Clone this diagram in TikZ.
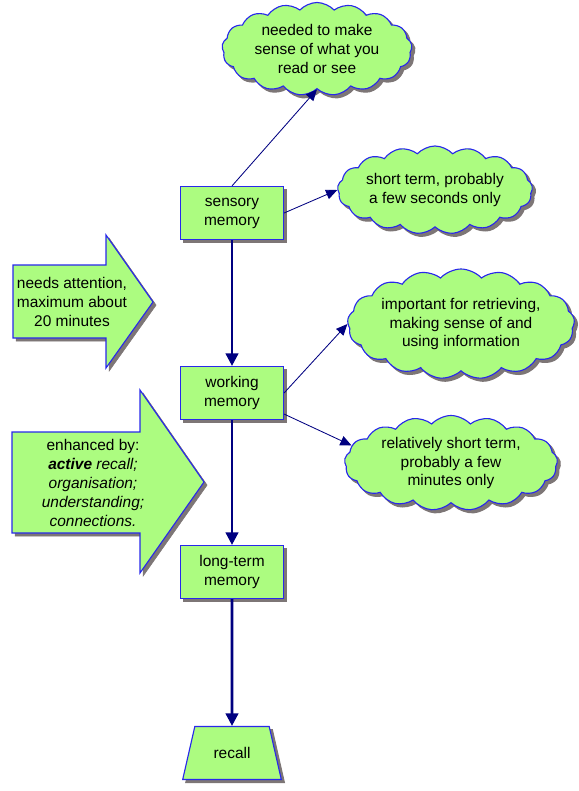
\documentclass[tikz,border=0pt]{standalone}
\usepackage{fontspec}
\setmainfont{Liberation Sans}
\usetikzlibrary{positioning, arrows.meta, shapes}
\definecolor{LeafGreen}{RGB}{172,252,128}
\definecolor{EdgeBlue}{RGB}{40,40,235}
\definecolor{NavyLine}{RGB}{0,0,128}
\definecolor{ShadowGray}{RGB}{125,118,118}

\begin{document}
\begin{tikzpicture}[x=0.025cm, y=-0.025cm,
    every node/.style={font=\fontsize{11}{13.5}\selectfont, align=center},
    boxshadow/.style={preaction={fill=ShadowGray, draw=ShadowGray, transform canvas={shift={(2.2pt,-2.2pt)}}}},
    membox/.style={rectangle, draw=EdgeBlue, line width=0.8pt, fill=LeafGreen, minimum width=2.575cm, minimum height=1.325cm, boxshadow},
    cloudnote/.style={cloud, cloud puffs=17, cloud puff arc=95, cloud ignores aspect, draw=EdgeBlue, line width=0.8pt, fill=LeafGreen, inner sep=0pt, boxshadow},
    bigarrow/.style={draw=EdgeBlue, line width=0.8pt, fill=LeafGreen, boxshadow},
    mainflow/.style={-{Triangle[length=9pt, width=9pt]}, line width=1.8pt, NavyLine},
    sideflow/.style={-{Triangle[length=8pt, width=7pt]}, line width=0.6pt, NavyLine}]
    \useasboundingbox (0,0) rectangle (579,791);

    % Nodes
    \node[membox] (sens) at (232,213) {sensory\\memory};
    \node[membox] (work) at (232,393) {working\\memory};
    \node[membox] (long) at (232,572) {long-term\\memory};
    \node[membox, trapezium, trapezium left angle=70, trapezium right angle=70, trapezium stretches=true,
          minimum width=2.475cm, minimum height=1.325cm] (recall) at (232,753) {recall};

    % Clouds
    \node[cloudnote, minimum width=4.75cm, minimum height=2.325cm] (sense) at (317,49) {needed to make\\sense of what you\\read or see};
    \node[cloudnote, minimum width=4.85cm, minimum height=2.2cm] (secs) at (435,190) {short term, probably\\a few seconds only};
    \node[cloudnote, minimum width=5.675cm, minimum height=2.75cm] (retr) at (461,324) {important for retrieving,\\making sense of and\\using information};
    \node[cloudnote, minimum width=5.325cm, minimum height=2.375cm] (mins) at (451,463) {relatively short term,\\probably a few\\minutes only};

    % Block arrows
    \filldraw[bigarrow] (13,265) -- (106,265) -- (106,235) -- (153,302) -- (106,368) -- (106,338) -- (13,338) -- cycle;
    \node (attn) at (72,302) {needs attention,\\maximum about\\20 minutes};
    \filldraw[bigarrow] (12,432) -- (140,432) -- (140,390) -- (204,482) -- (140,573) -- (140,533) -- (12,533) -- cycle;
    \node (enh) at (93,483) {enhanced by:\\\textbf{\textit{active}} \textit{recall;}\\\textit{organisation;}\\\textit{understanding;}\\\textit{connections.}};

    % Connections
    \draw[mainflow] (sens) -- (work);
    \draw[mainflow] (work) -- (long);
    \draw[mainflow] (long) -- (recall);
    \draw[sideflow] (sens.north) -- (sense.south);
    \draw[sideflow] (sens.east) -- (secs.west);
    \draw[sideflow] (work.east) -- (retr.west);
    \draw[sideflow] (work.-22) -- (mins.170);
\end{tikzpicture}
\end{document}
